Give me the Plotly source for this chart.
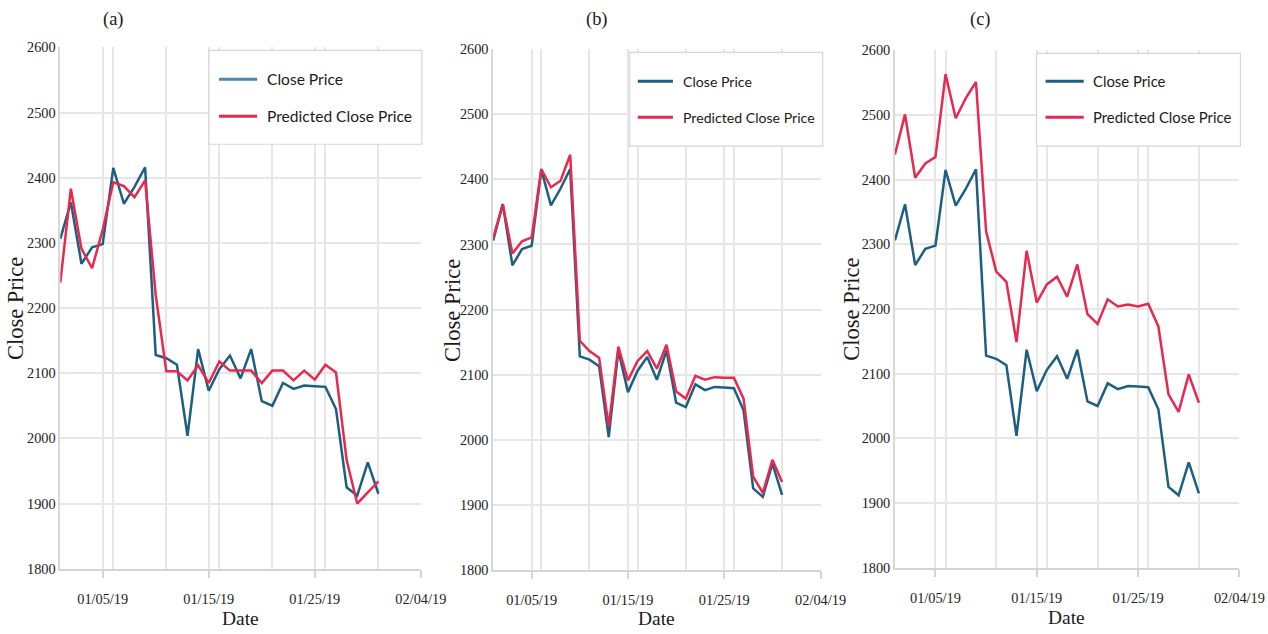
import plotly.graph_objects as go

# Daily closing prices, January 2019
dates = [f"2019-01-{d:02d}" for d in range(1, 32)]
close_price = [2306, 2362, 2268, 2293, 2298, 2415, 2360, 2386, 2416, 2128,
               2123, 2113, 2004, 2137, 2073, 2106, 2127, 2092, 2137, 2057,
               2050, 2085, 2076, 2081, 2080, 2079, 2045, 1925, 1912, 1963, 1915]

# Predicted closing prices from the three models
pred_a = [2239, 2383, 2291, 2261, 2320, 2393, 2387, 2370, 2396, 2220,
          2103, 2103, 2089, 2112, 2085, 2118, 2104, 2104, 2104, 2085,
          2104, 2104, 2089, 2104, 2090, 2113, 2101, 1967, 1900, 1917, 1934]
pred_b = [2310, 2362, 2286, 2305, 2311, 2416, 2388, 2398, 2438, 2152,
          2136, 2126, 2020, 2143, 2091, 2121, 2136, 2109, 2146, 2074,
          2063, 2098, 2092, 2096, 2095, 2095, 2063, 1943, 1918, 1969, 1935]
pred_c = [2439, 2501, 2403, 2425, 2435, 2563, 2495, 2526, 2551, 2320,
          2258, 2242, 2149, 2290, 2210, 2238, 2250, 2219, 2269, 2192,
          2177, 2215, 2204, 2207, 2204, 2208, 2173, 2068, 2041, 2099, 2055]

panel_labels = ["(a)", "(b)", "(c)"]
series_names = ["Close Price", "Predicted Close Price"]

W, H = 1268, 634
BLUE = "#1d5f80"
BLUE_LIGHT = "#4a8aa8"
RED = "#e8294f"
GRID = "#e6e6e6"
SERIF = "Liberation Serif"
SANS = "Lato"

# page layout is laid out in screen pixels; the page is shown slightly scaled
SCALE, OX, OY = 0.976, 2.0, 7.6


def px(x):
    return (x - OX) / SCALE / W


def py(y):
    return 1 - (y - OY) / SCALE / H


def fs(size):
    return size / SCALE


# pixel boxes of the three plot areas: (left, right, top, bottom)
boxes = [(62, 421, 47, 569), (493, 819, 49, 570), (893, 1236, 50, 568)]
preds = [pred_a, pred_b, pred_c]

fig = go.Figure()
layout = dict(width=W, height=H, margin=dict(l=0, r=0, t=0, b=0),
              font=dict(family=SERIF, size=fs(14), color="#222"),
              paper_bgcolor="white", plot_bgcolor="white", showlegend=False)

DAY = 86400000
for i, (box, pred) in enumerate(zip(boxes, preds)):
    n = "" if i == 0 else str(i + 1)
    fig.add_trace(go.Scatter(x=dates, y=close_price, mode="lines", name=series_names[0],
                             line=dict(color=BLUE, width=2.5), xaxis="x" + n, yaxis="y" + n))
    fig.add_trace(go.Scatter(x=dates, y=pred, mode="lines", name=series_names[1],
                             line=dict(color=RED, width=2.5), xaxis="x" + n, yaxis="y" + n))
    l, r, t, b = box
    layout["xaxis" + n] = dict(
        domain=[px(l), px(r)], anchor="y" + n, type="date",
        range=["2019-01-01", "2019-02-04"], tick0="2019-01-05", dtick=10 * DAY,
        tickformat="%m/%d/%y", ticks="outside", ticklen=7, tickcolor="#d4d4d4",
        tickwidth=1.5, ticklabelstandoff=9,
        tickfont=dict(family=SERIF, size=fs(14), color="#222"),
        showgrid=True, gridcolor=GRID, gridwidth=1.5,
        minor=dict(dtick=5 * DAY, showgrid=True, gridcolor=GRID, gridwidth=1.5),
        showline=True, linecolor="#d4d4d4", linewidth=2, zeroline=False, fixedrange=True)
    layout["yaxis" + n] = dict(
        domain=[py(b), py(t)], anchor="x" + n, range=[1800, 2600], dtick=100,
        tickfont=dict(family=SERIF, size=fs(14), color="#222"), ticks="",
        showgrid=True, gridcolor=GRID, gridwidth=1.5,
        showline=True, linecolor="#d8d8d8", linewidth=1.5, zeroline=False, fixedrange=True)

annotations = []
shapes = []


def label(x, y, text, size, family=SERIF, angle=0, xanchor="center"):
    return dict(x=px(x), y=py(y), xref="paper", yref="paper", text=text,
                xanchor=xanchor, yanchor="middle", textangle=angle, showarrow=False,
                font=dict(family=family, size=fs(size), color="#1a1a1a"))


# panel labels and axis titles
for (x, lab) in zip([115, 596, 978], panel_labels):
    annotations.append(label(x, 19, lab, 18))
for (x, y) in [(241, 619), (656, 619), (1064, 618)]:
    annotations.append(label(x, y, "Date", 19))
for (x, y) in [(17, 309), (452, 310), (849, 309)]:
    annotations.append(label(x, y, "Close Price", 22, angle=-90))

# legend boxes: (box left, right, top, bottom, line x0, line x1, text x, row y1, row y2, font size)
legends = [(210, 422, 50, 144, 220, 258, 266, 79, 116, 15.2),
           (629, 821, 52, 146, 637, 672, 680, 81, 117, 13.8),
           (1034, 1237, 53, 146, 1043, 1081, 1088, 81, 117, 14.5)]
for k, (bl, br, bt, bb, lx0, lx1, tx, r1, r2, size) in enumerate(legends):
    shapes.append(dict(type="rect", xref="paper", yref="paper", x0=px(bl), x1=px(br),
                       y0=py(bb), y1=py(bt), line=dict(color="#d6d6d6", width=1.2),
                       fillcolor="white", layer="above"))
    blue = BLUE_LIGHT if k == 0 else BLUE
    for (ry, col, name) in [(r1, blue, series_names[0]), (r2, RED, series_names[1])]:
        shapes.append(dict(type="line", xref="paper", yref="paper", x0=px(lx0), x1=px(lx1),
                           y0=py(ry), y1=py(ry), line=dict(color=col, width=3), layer="above"))
        annotations.append(label(tx, ry, name, size, family=SANS, xanchor="left"))

layout["annotations"] = annotations
layout["shapes"] = shapes
fig.update_layout(**layout)
fig.write_html("out.html")
